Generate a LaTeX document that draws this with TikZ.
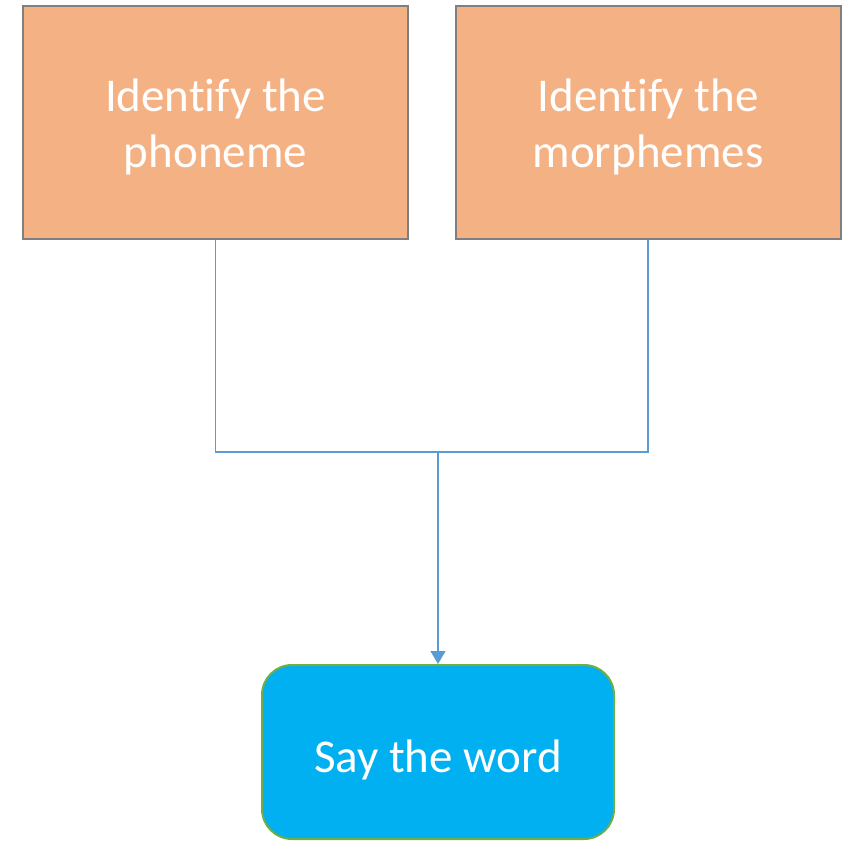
\documentclass[tikz,border=0pt]{standalone}
\usepackage{fontspec}
\setmainfont[Ligatures=NoCommon]{Carlito}
\usetikzlibrary{arrows.meta}
\definecolor{boxfill}{HTML}{F4B183}
\definecolor{boxline}{HTML}{7F7F7F}
\definecolor{saybox}{HTML}{00B0F0}
\definecolor{sayline}{HTML}{70AD47}
\definecolor{conn}{HTML}{5B9BD5}
\begin{document}
\begin{tikzpicture}[x=1pt,y=-1pt,
  boxtext/.style={text=white, font=\fontsize{47}{56}\selectfont, align=center, inner sep=0pt},
  stepbox/.style={draw=boxline, line width=2pt, fill=boxfill, minimum width=385pt, minimum height=232pt, inner sep=0pt},
  saynode/.style={draw=sayline, line width=2pt, fill=saybox, rounded corners=30pt, minimum width=352pt, minimum height=174pt, inner sep=0pt},
  connline/.style={draw=conn, line width=1.3pt}]
\useasboundingbox (0,0) rectangle (848,840);
\node[stepbox, label={[boxtext, yshift=-4.5pt]center:Identify the\\phoneme}] (a) at (215.5,122.5) {};
\node[stepbox, label={[boxtext, yshift=-4.5pt]center:Identify the\\morphemes}] (b) at (648,122.5) {};
\node[saynode, label={[boxtext, yshift=-8pt]center:Say the word}] (c) at (438,752) {};
\coordinate (j) at (438,452);
\draw[connline] (a.south) |- (j) -| (b.south);
\draw[connline, -{Triangle[length=13pt,width=15pt]}] (j) -- (c.north);
\end{tikzpicture}
\end{document}
